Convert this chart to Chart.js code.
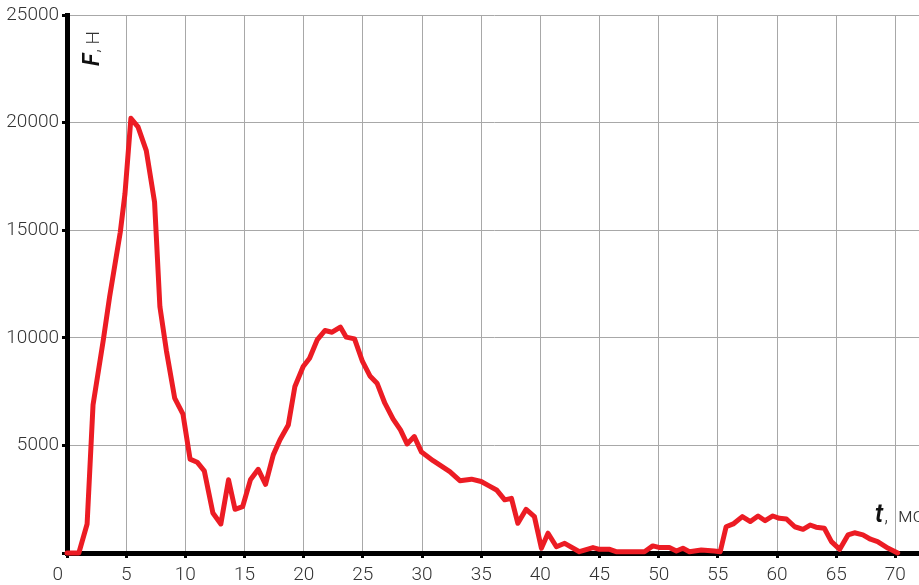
<!DOCTYPE html>
<html>
<head>
<meta charset="utf-8">
<script src="https://cdn.jsdelivr.net/npm/chart.js@4/dist/chart.umd.min.js"></script>
<style>
  html, body { margin: 0; padding: 0; background: #fff; }
  #wrap { width: 919px; height: 585px; }
</style>
</head>
<body>
<div id="wrap"><canvas id="c" width="919" height="585"></canvas></div>
<script>
// Time samples, ms
const times = [
  0, 1.0, 1.7, 2.2, 3.07, 3.6, 4.5, 4.9, 5.4, 6.0, 6.7, 7.4, 7.85, 8.4, 9.1, 9.8,
  10.4, 11.0, 11.6, 12.33, 13.0, 13.65, 14.2, 14.84, 15.5, 16.16, 16.78, 17.43,
  18.0, 18.7, 19.26, 19.96, 20.5, 21.14, 21.8, 22.4, 23.1, 23.6, 24.3, 24.97,
  25.6, 26.2, 26.86, 27.56, 28.18, 28.74, 29.35, 29.96, 30.94, 32.35, 33.2,
  34.18, 35.0, 35.67, 36.3, 36.99, 37.56, 38.1, 38.8, 39.5, 40.09, 40.65, 41.36,
  42.06, 43.3, 44.45, 45.0, 45.86, 46.4, 48.8, 49.5, 50.1, 50.9, 51.5, 52.05,
  52.6, 53.6, 54.7, 55.2, 55.7, 56.3, 57.07, 57.75, 58.4, 59.0, 59.65, 60.2,
  60.8, 61.5, 62.2, 62.8, 63.3, 64.0, 64.6, 65.3, 66.0, 66.55, 67.26, 67.9,
  68.5, 69.4, 70.2
];

// Force, N
const forces = [
  0, 0, 1350, 6880, 9900, 11900, 14900, 16700, 20200, 19800, 18700, 16300, 11450, 9400, 7200, 6450,
  4360, 4220, 3820, 1860, 1350, 3400, 2030, 2150, 3400, 3890, 3190, 4560,
  5260, 5950, 7740, 8670, 9050, 9900, 10340, 10260, 10500, 10030, 9950, 8900,
  8230, 7890, 6960, 6220, 5720, 5070, 5410, 4690, 4290, 3780, 3360,
  3430, 3320, 3120, 2930, 2470, 2540, 1380, 2030, 1690, 220, 920, 290,
  450, 60, 250, 170, 170, 60, 60, 330, 250, 250, 90, 220,
  60, 140, 90, 60, 1220, 1350, 1690, 1460, 1720, 1500, 1720, 1610,
  1580, 1220, 1100, 1300, 1200, 1150, 530, 170, 840, 940, 840, 640,
  530, 220, 0
];

// Axis ranges and tick values
const xRange = [0, 72];
const xTicks = [0, 5, 10, 15, 20, 25, 30, 35, 40, 45, 50, 55, 60, 65, 70];
const yRange = [0, 25000];
const yStep = 5000;

const points = times.map((t, i) => ({ x: t, y: forces[i] }));

const FONT = 'Roboto, "Liberation Sans", sans-serif';
const tickFont = { family: FONT, size: 19, weight: '300' };

// Axis names drawn inside the plot: "F, Н" upright along the y axis, "t, мс" near the x axis end
const axisNames = {
  id: 'axisNames',
  afterDraw(chart) {
    const { ctx, chartArea } = chart;
    ctx.save();
    ctx.fillStyle = '#111';
    ctx.textBaseline = 'alphabetic';
    ctx.textAlign = 'left';

    // F, Н
    ctx.save();
    ctx.translate(chartArea.left + 32, chartArea.top + 51);
    ctx.rotate(-Math.PI / 2);
    ctx.font = 'italic 600 23px ' + FONT;
    ctx.fillText('F', 0, 0);
    let w = ctx.measureText('F').width;
    ctx.font = '300 19px ' + FONT;
    ctx.fillStyle = '#333';
    ctx.fillText(', Н', w + 1, 0);
    ctx.restore();

    // t, мс
    const tx = chartArea.right - 44;
    const ty = chartArea.bottom - 31;
    ctx.font = 'italic 600 25px ' + FONT;
    ctx.fillText('t', tx, ty);
    w = ctx.measureText('t').width;
    ctx.font = '300 20px ' + FONT;
    ctx.fillStyle = '#333';
    ctx.fillText(',', tx + w + 1, ty);
    ctx.fillText('мс', chartArea.right - 21, ty);
    ctx.restore();
  }
};

new Chart(document.getElementById('c'), {
  type: 'line',
  data: {
    datasets: [{
      data: points,
      borderColor: '#ec1c24',
      borderWidth: 5,
      pointRadius: 0,
      tension: 0,
      borderJoinStyle: 'round',
      borderCapStyle: 'round',
      clip: 6
    }]
  },
  options: {
    responsive: false,
    animation: false,
    layout: { padding: { top: 15, right: 0, bottom: 0, left: 0 } },
    plugins: { legend: { display: false }, tooltip: { enabled: false } },
    scales: {
      x: {
        type: 'linear',
        min: xRange[0],
        max: xRange[1],
        afterBuildTicks(scale) {
          scale.ticks = xTicks.map(v => ({ value: v }));
        },
        afterFit(scale) { scale.height = 32; },
        ticks: {
          autoSkip: false,
          maxRotation: 0,
          padding: 6,
          color: '#333',
          font: tickFont,
          callback: v => (v === 0 ? '0    ' : String(v))
        },
        grid: {
          color: '#a8a8a8',
          lineWidth: 1,
          tickLength: 5,
          tickColor: '#000',
          tickWidth: 3
        },
        border: { display: true, color: '#000', width: 5 }
      },
      y: {
        min: yRange[0],
        max: yRange[1],
        afterFit(scale) { scale.width = 67; },
        ticks: {
          stepSize: yStep,
          padding: 3,
          color: '#333',
          font: tickFont,
          callback: v => (v === 0 ? '' : String(v))
        },
        grid: {
          color: '#a8a8a8',
          lineWidth: 1,
          tickLength: 5,
          tickColor: '#000',
          tickWidth: 3
        },
        border: { display: true, color: '#000', width: 5 }
      }
    }
  },
  plugins: [axisNames]
});
</script>
</body>
</html>
